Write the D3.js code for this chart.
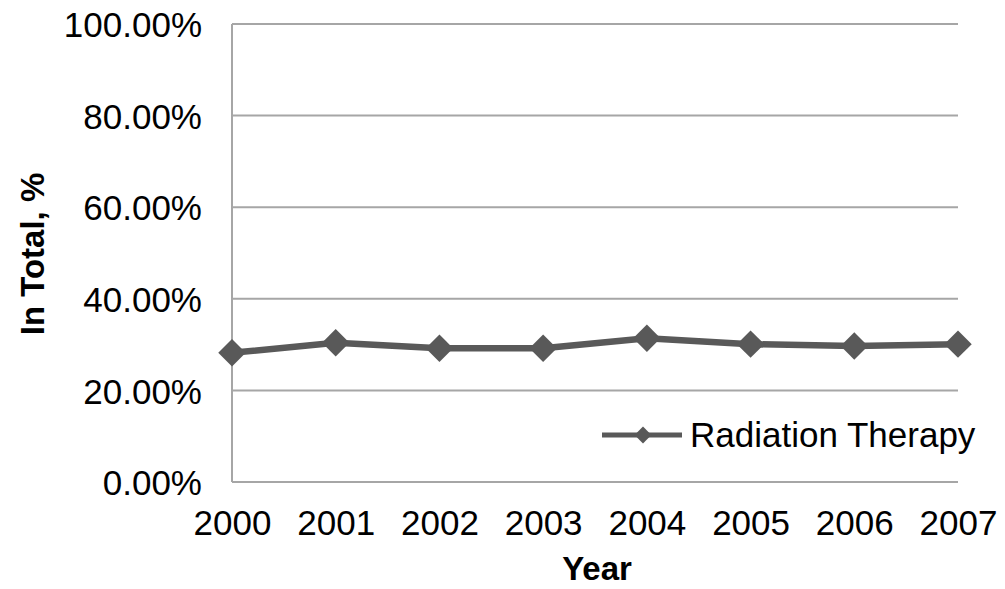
<!DOCTYPE html>
<html><head><meta charset="utf-8">
<script src="https://cdn.jsdelivr.net/npm/d3@7"></script>
<style>body{margin:0;background:#fff}svg{display:block}text{font-family:"Liberation Sans",Arial,sans-serif}</style>
</head><body>
<script>
const years = ["2000","2001","2002","2003","2004","2005","2006","2007"];
const radiationTherapy = [0.282, 0.304, 0.292, 0.292, 0.314, 0.301, 0.297, 0.301];
const yTicks = [0, 0.2, 0.4, 0.6, 0.8, 1.0];
const seriesName = "Radiation Therapy";

const W = 1005, H = 589;
const pLeft = 232, pRight = 958, pTop = 24, pBottom = 482;
const svg = d3.select("body").append("svg").attr("width", W).attr("height", H);

const x = d3.scalePoint().domain(years).range([pLeft, pRight]);
const y = d3.scaleLinear().domain([0, 1]).range([pBottom, pTop]);
const grid = "#a6a6a6", dark = "#595959";

// gridlines
svg.append("g").selectAll("line").data(yTicks).join("line")
  .attr("x1", pLeft).attr("x2", pRight)
  .attr("y1", d => y(d)).attr("y2", d => y(d))
  .attr("stroke", grid).attr("stroke-width", 2);
// left axis line
svg.append("line").attr("x1", pLeft).attr("x2", pLeft).attr("y1", pTop).attr("y2", pBottom)
  .attr("stroke", grid).attr("stroke-width", 2);

// y axis labels
const yAxis = d3.axisLeft(y).tickValues(yTicks).tickSize(0).tickPadding(0)
  .tickFormat(d => (d * 100).toFixed(2) + "%");
const gy = svg.append("g").attr("transform", `translate(${pLeft - 30},0)`).call(yAxis);
gy.select(".domain").remove();
gy.selectAll("text").attr("font-size", 35).attr("fill", "#000")
  .attr("font-family", '"Liberation Sans", Arial, sans-serif').attr("dy", "0.36em");

// x axis labels
const xAxis = d3.axisBottom(x).tickSize(0).tickPadding(0);
const gx = svg.append("g").attr("transform", `translate(0,${pBottom})`).call(xAxis);
gx.select(".domain").remove();
gx.selectAll("text").attr("font-size", 35).attr("fill", "#000")
  .attr("font-family", '"Liberation Sans", Arial, sans-serif').attr("dy", null).attr("y", 53);

// axis titles
svg.append("text").attr("transform", "translate(44,254) rotate(-90)")
  .attr("text-anchor", "middle").attr("font-size", 33).attr("font-weight", "bold").text("In Total, %");
svg.append("text").attr("x", 597).attr("y", 580)
  .attr("text-anchor", "middle").attr("font-size", 33).attr("font-weight", "bold").text("Year");

// series line
const line = d3.line().x((d, i) => x(years[i])).y(d => y(d));
svg.append("path").datum(radiationTherapy).attr("d", line)
  .attr("fill", "none").attr("stroke", dark).attr("stroke-width", 6.5).attr("stroke-linejoin", "round");
const diamond = d3.symbol().type(d3.symbolDiamond2);
svg.append("g").selectAll("path").data(radiationTherapy).join("path")
  .attr("transform", (d, i) => `translate(${x(years[i])},${y(d)})`)
  .attr("d", diamond.size(31 * 31 / 2)())
  .attr("fill", dark);

// legend
const lg = svg.append("g");
lg.append("line").attr("x1", 602).attr("x2", 682).attr("y1", 435).attr("y2", 435)
  .attr("stroke", dark).attr("stroke-width", 5);
lg.append("path").attr("transform", "translate(643,435)")
  .attr("d", d3.symbol().type(d3.symbolDiamond2).size(19 * 19 / 2)()).attr("fill", dark);
lg.append("text").attr("x", 690).attr("y", 447).attr("font-size", 35).attr("fill", "#000").text(seriesName);
</script>
</body></html>
